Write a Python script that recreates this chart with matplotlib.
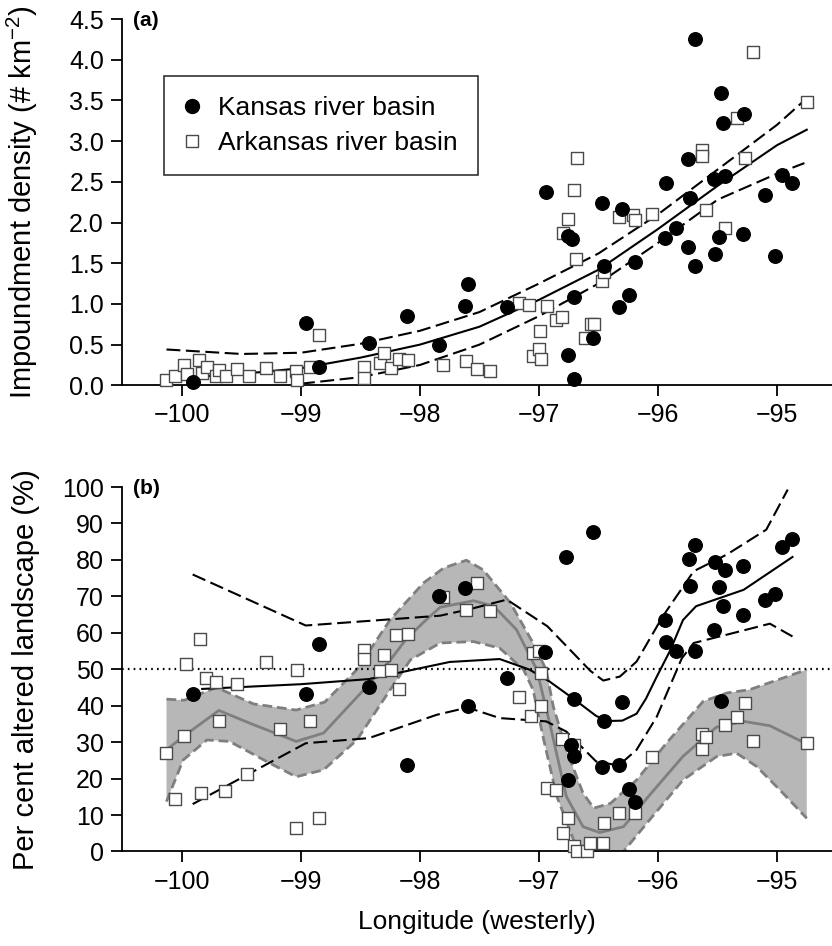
import matplotlib
matplotlib.use("Agg")
import matplotlib.pyplot as plt
from matplotlib.lines import Line2D

plt.rcParams['font.family'] = ['Liberation Sans', 'DejaVu Sans']
plt.rcParams['mathtext.fontset'] = 'custom'
plt.rcParams['mathtext.rm'] = 'Liberation Sans'
plt.rcParams['mathtext.default'] = 'regular'
plt.rcParams['lines.scale_dashes'] = False

# ---- panel (a): impoundment density ----
a_kansas_x = [-99.905, -98.96, -98.85, -98.43, -98.11, -97.84, -97.60, -97.62, -97.27, -96.94,
              -96.76, -96.72, -96.71, -96.76, -96.71, -96.55, -96.47, -96.45, -96.33, -96.30,
              -96.24, -96.19, -95.94, -95.93, -95.85, -95.75, -95.75, -95.73, -95.69, -95.69,
              -95.53, -95.52, -95.49, -95.47, -95.45, -95.44, -95.29, -95.28, -95.10, -95.02,
              -94.96, -94.87]
a_kansas_y = [0.04, 0.76, 0.22, 0.52, 0.85, 0.49, 1.25, 0.97, 0.96, 2.38,
              1.83, 1.80, 1.09, 0.37, 0.08, 0.585, 2.24, 1.47, 0.96, 2.16,
              1.11, 1.51, 1.805, 2.48, 1.93, 2.78, 1.70, 2.30, 4.26, 1.465,
              2.54, 1.61, 1.82, 3.59, 3.22, 2.57, 1.855, 3.33, 2.34, 1.59,
              2.58, 2.49]

a_arkansas_x = [-100.13, -100.06, -99.98, -99.96, -99.86, -99.83, -99.79, -99.71, -99.69, -99.63,
                -99.54, -99.44, -99.29, -99.18, -99.04, -99.03, -98.92, -98.85, -98.47, -98.47,
                -98.34, -98.30, -98.24, -98.18, -98.10, -97.81, -97.61, -97.52, -97.41, -97.17,
                -97.08, -97.05, -97.00, -96.99, -96.98, -96.93, -96.86, -96.81, -96.80, -96.76,
                -96.71, -96.68, -96.69, -96.61, -96.56, -96.54, -96.47, -96.45, -96.33, -96.21,
                -96.19, -96.05, -95.63, -95.63, -95.60, -95.44, -95.34, -95.27, -95.20, -94.75]
a_arkansas_y = [0.06, 0.11, 0.25, 0.14, 0.31, 0.155, 0.22, 0.115, 0.19, 0.115,
                0.20, 0.115, 0.21, 0.12, 0.18, 0.065, 0.22, 0.62, 0.22, 0.09,
                0.28, 0.40, 0.21, 0.32, 0.31, 0.25, 0.30, 0.20, 0.17, 1.01,
                0.99, 0.36, 0.45, 0.67, 0.32, 0.97, 0.80, 0.835, 1.87, 2.04,
                2.40, 2.79, 1.55, 0.585, 0.75, 0.75, 1.28, 1.395, 2.07, 2.09,
                2.03, 2.10, 2.89, 2.82, 2.15, 1.93, 3.29, 2.79, 4.10, 3.48]

a_fit_x = [-100.12, -99.5, -99.0, -98.5, -98.0, -97.5, -97.0, -96.5, -96.0, -95.5, -95.0, -94.75]
a_fit_y = [0.08, 0.14, 0.21, 0.34, 0.50, 0.72, 1.05, 1.42, 1.92, 2.45, 2.95, 3.14]
a_upper_x = [-100.13, -99.5, -99.0, -98.5, -98.0, -97.5, -97.0, -96.5, -96.0, -95.5, -95.0, -94.77]
a_upper_y = [0.44, 0.385, 0.40, 0.51, 0.67, 0.90, 1.25, 1.62, 2.10, 2.65, 3.20, 3.50]
a_lower_x = [-99.0, -98.5, -98.0, -97.5, -97.0, -96.5, -96.0, -95.5, -95.0, -94.77]
a_lower_y = [0.02, 0.10, 0.25, 0.50, 0.85, 1.25, 1.75, 2.28, 2.60, 2.73]

# ---- panel (b): per cent altered landscape ----
b_kansas_x = [-99.905, -98.96, -98.85, -98.43, -98.11, -97.84, -97.62, -97.60, -97.27, -96.95,
              -96.77, -96.76, -96.73, -96.71, -96.71, -96.55, -96.47, -96.45, -96.33, -96.30,
              -96.24, -96.19, -95.94, -95.93, -95.85, -95.74, -95.73, -95.69, -95.69, -95.53,
              -95.52, -95.49, -95.47, -95.45, -95.44, -95.29, -95.29, -95.10, -95.02, -94.96,
              -94.87]
b_kansas_y = [43.3, 43.3, 57.0, 45.0, 23.8, 70.0, 72.3, 39.8, 47.6, 54.6,
              80.8, 19.5, 29.3, 41.9, 26.2, 87.6, 23.1, 35.9, 23.6, 41.0,
              17.2, 13.7, 63.6, 57.4, 54.9, 80.3, 72.9, 84.2, 54.9, 60.9,
              79.3, 72.7, 41.4, 67.4, 77.3, 78.2, 65.0, 69.1, 70.7, 83.5,
              85.8]

b_arkansas_x = [-100.13, -100.06, -99.98, -99.97, -99.85, -99.84, -99.80, -99.71, -99.69, -99.64,
                -99.54, -99.45, -99.29, -99.18, -99.04, -99.03, -98.92, -98.85, -98.47, -98.47,
                -98.34, -98.30, -98.24, -98.20, -98.18, -98.10, -97.81, -97.61, -97.52, -97.41,
                -97.17, -97.07, -97.05, -97.00, -96.98, -96.98, -96.93, -96.86, -96.81, -96.80,
                -96.76, -96.71, -96.71, -96.68, -96.60, -96.57, -96.46, -96.45, -96.33, -96.19,
                -96.05, -95.63, -95.63, -95.60, -95.44, -95.34, -95.27, -95.20, -94.75]
b_arkansas_y = [27.1, 14.4, 31.8, 51.5, 58.4, 16.0, 47.6, 46.4, 35.9, 16.7,
                45.9, 21.2, 52.0, 33.6, 6.4, 49.9, 35.9, 9.1, 55.4, 52.9,
                49.6, 54.0, 49.7, 59.3, 44.6, 59.8, 69.8, 66.3, 73.7, 65.9,
                42.4, 37.2, 54.4, 55.1, 49.0, 40.0, 17.5, 16.9, 30.8, 5.0,
                9.3, 29.3, 1.6, 0.2, 0.0, 2.3, 2.4, 7.7, 10.5, 10.5,
                25.9, 32.3, 28.1, 31.5, 34.6, 36.9, 40.7, 30.4, 29.7]

b_kfit_x = [-99.83, -99.0, -98.43, -97.75, -97.33, -97.08, -96.91, -96.71, -96.52, -96.42,
            -96.30, -96.18, -96.10, -96.01, -95.90, -95.79, -95.68, -95.28, -94.87]
b_kfit_y = [44.6, 45.9, 47.3, 52.0, 52.8, 49.9, 46.6, 41.9, 37.2, 35.8,
            35.9, 37.8, 42.0, 48.0, 55.0, 63.5, 67.3, 71.8, 80.8]
b_kup_x = [-99.91, -98.96, -97.83, -97.58, -97.27, -96.93, -96.57, -96.46, -96.32, -96.18,
           -95.96, -95.70, -95.42, -95.09, -94.91]
b_kup_y = [76.0, 62.0, 64.7, 66.5, 69.1, 61.8, 49.6, 46.9, 48.0, 52.1,
           64.5, 76.9, 81.5, 88.3, 99.3]
b_klo_x = [-99.91, -98.96, -98.43, -97.86, -97.60, -97.33, -96.94, -96.77, -96.52, -96.33,
           -96.18, -96.01, -95.80, -95.70, -95.42, -95.06, -94.87]
b_klo_y = [13.0, 29.7, 31.1, 37.5, 39.5, 36.6, 35.7, 32.9, 24.7, 23.6,
           27.9, 37.0, 53.0, 57.2, 59.5, 62.5, 59.0]

b_afit_x = [-100.13, -99.97, -99.69, -99.43, -99.04, -98.81, -98.42, -98.25, -98.11, -97.95,
            -97.83, -97.55, -97.38, -97.19, -97.02, -96.91, -96.77, -96.63, -96.49, -96.29,
            -96.07, -95.79, -95.51, -95.28, -95.06, -94.75]
b_afit_y = [27.9, 32.0, 38.7, 35.2, 30.2, 32.5, 46.2, 52.5, 58.5, 63.5,
            67.0, 68.8, 67.3, 60.9, 50.0, 35.2, 15.1, 6.8, 5.2, 6.8,
            15.5, 26.1, 34.1, 35.7, 34.5, 29.5]
b_aup_x = [-100.13, -99.98, -99.71, -99.4, -99.04, -98.8, -98.53, -98.25, -97.97, -97.80,
           -97.61, -97.47, -97.24, -97.05, -96.94, -96.88, -96.77, -96.63, -96.54, -96.40,
           -96.18, -95.93, -95.62, -95.42, -95.23, -94.95, -94.75]
b_aup_y = [41.8, 41.5, 45.0, 40.5, 38.8, 41.0, 49.9, 63.6, 73.7, 77.8,
           79.9, 77.3, 68.2, 57.2, 49.9, 39.8, 27.9, 16.0, 11.9, 13.2,
           19.6, 29.7, 41.2, 43.5, 44.4, 47.6, 49.9]
b_alo_x = [-100.13, -99.99, -99.79, -99.60, -99.26, -99.04, -98.81, -98.53, -98.25, -98.08,
           -97.83, -97.55, -97.33, -97.13, -97.05, -96.96, -96.85, -96.71, -96.60, -96.47,
           -96.35, -96.29, -96.07, -95.79, -95.51, -95.34, -95.17, -94.95, -94.75]
b_alo_y = [13.7, 25.1, 30.6, 30.2, 24.2, 20.5, 22.4, 30.6, 44.4, 52.6,
           57.2, 57.6, 55.8, 49.9, 44.4, 30.6, 15.1, 3.2, -3.0, -5.0,
           -3.0, 0.0, 8.7, 19.6, 26.0, 27.0, 23.3, 16.0, 9.1]

xticks = [-100, -99, -98, -97, -96, -95]
GREY_FILL = '#b7b7b7'
GREY_LINE = '#7f7f7f'
SQ_EDGE = '#4a4a4a'
DASH = (0, (10, 4))
GDASH = (0, (7, 3.5))

fig = plt.figure(figsize=(8.32, 9.46), dpi=100)
ax1 = fig.add_axes([0.1466, 0.5927, 0.8534, 0.3872])
ax2 = fig.add_axes([0.1466, 0.0999, 0.8534, 0.3853])

for ax in (ax1, ax2):
    for s in ('top', 'right'):
        ax.spines[s].set_visible(False)
    for s in ('left', 'bottom'):
        ax.spines[s].set_linewidth(1.3)
    ax.tick_params(direction='out', length=8, width=1.3, labelsize=18, pad=5)
    ax.set_xlim(-100.504, -94.538)
    ax.set_xticks(xticks)

# panel a
ax1.set_ylim(0, 4.5)
ax1.set_yticks([0, 0.5, 1, 1.5, 2, 2.5, 3, 3.5, 4, 4.5])
ax1.set_yticklabels(['%.1f' % v for v in ax1.get_yticks()])
ax1.plot(a_fit_x, a_fit_y, color='k', lw=1.5)
ax1.plot(a_upper_x, a_upper_y, color='k', lw=1.5, ls=DASH)
ax1.plot(a_lower_x, a_lower_y, color='k', lw=1.5, ls=DASH)
ax1.scatter(a_arkansas_x, a_arkansas_y, marker='s', s=75, facecolor='white',
            edgecolor=SQ_EDGE, linewidth=1.0, zorder=3, clip_on=False)
ax1.scatter(a_kansas_x, a_kansas_y, marker='o', s=95, color='k', zorder=4, clip_on=False)
ax1.set_ylabel('Impoundment density (# km$^{-2}$)', fontsize=21)
ax1.yaxis.set_label_coords(-0.115, 0.5)
ax1.text(0.015, 0.995, '(a)', transform=ax1.transAxes, fontsize=15, fontweight='bold',
         va='center', ha='left')

handles = [Line2D([], [], marker='o', ls='none', color='k', markersize=10),
           Line2D([], [], marker='s', ls='none', markerfacecolor='white',
                  markeredgecolor=SQ_EDGE, markersize=8)]
leg = ax1.legend(handles, ['Kansas river basin', 'Arkansas river basin'],
                 loc='upper left', bbox_to_anchor=(0.059, 0.844), fontsize=19,
                 frameon=True, fancybox=False, edgecolor='k', borderpad=0.75,
                 handletextpad=0.72, labelspacing=0.42, handlelength=0.6,
                 borderaxespad=0)
leg.get_frame().set_linewidth(1.2)

# panel b
ax2.set_ylim(0, 100)
ax2.set_yticks(range(0, 101, 10))
ax2.fill(b_aup_x + b_alo_x[::-1], b_aup_y + b_alo_y[::-1], color=GREY_FILL, lw=0, zorder=1)
ax2.plot(b_aup_x, b_aup_y, color=GREY_LINE, lw=2, ls=GDASH, zorder=2)
ax2.plot(b_alo_x, b_alo_y, color=GREY_LINE, lw=2, ls=GDASH, zorder=2)
ax2.plot(b_afit_x, b_afit_y, color=GREY_LINE, lw=2, zorder=2)
ax2.axhline(50, color='k', lw=1.6, ls=(0, (1.2, 3)), zorder=2)
ax2.plot(b_kfit_x, b_kfit_y, color='k', lw=1.5, zorder=2.5)
ax2.plot(b_kup_x, b_kup_y, color='k', lw=1.5, ls=DASH, zorder=2.5)
ax2.plot(b_klo_x, b_klo_y, color='k', lw=1.5, ls=DASH, zorder=2.5)
ax2.scatter(b_arkansas_x, b_arkansas_y, marker='s', s=75, facecolor='white',
            edgecolor=SQ_EDGE, linewidth=1.0, zorder=3, clip_on=False)
ax2.scatter(b_kansas_x, b_kansas_y, marker='o', s=95, color='k', zorder=4, clip_on=False)
ax2.set_ylabel('Per cent altered landscape (%)', fontsize=21)
ax2.yaxis.set_label_coords(-0.115, 0.5)
ax2.set_xlabel('Longitude (westerly)', fontsize=19, labelpad=12)
ax2.text(0.015, 0.995, '(b)', transform=ax2.transAxes, fontsize=15, fontweight='bold',
         va='center', ha='left')

fig.savefig('out.png', dpi=100)
